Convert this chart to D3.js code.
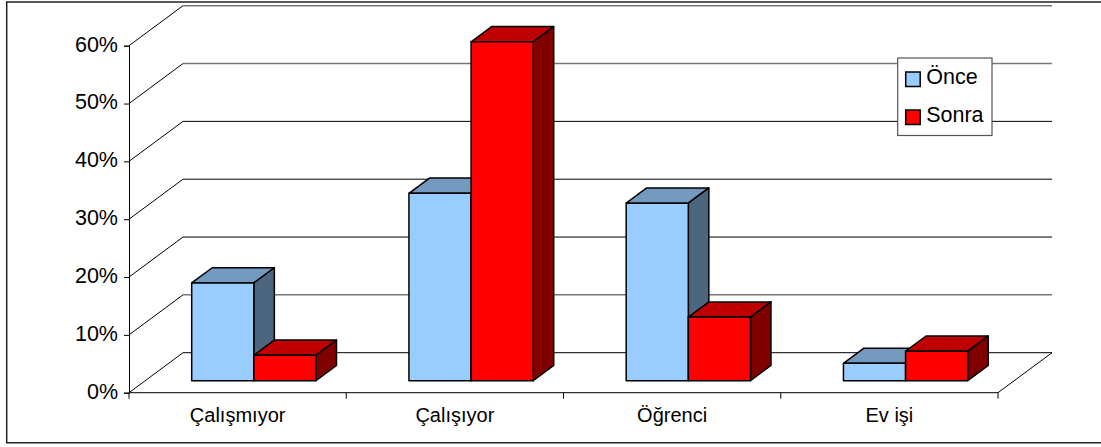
<!DOCTYPE html>
<html>
<head>
<meta charset="utf-8">
<script src="https://d3js.org/d3.v7.min.js"></script>
<style>
  html, body { margin: 0; padding: 0; background: #fff; }
  svg { display: block; }
  text { font-family: "Liberation Sans", Arial, sans-serif; fill: #000; }
</style>
</head>
<body>
<div class="chart"></div>
<script>
// Chart data
var categories = ["Çalışmıyor", "Çalışıyor", "Öğrenci", "Ev işi"];
var seriesNames = ["Önce", "Sonra"];
var once = [16.9, 32.4, 30.7, 3.0];
var sonra = [4.4, 58.6, 11.0, 5.1];
var yTicks = [0, 10, 20, 30, 40, 50, 60];

// These back wall lines come out soft and grey in the reference
var softTicks = [10, 50, 60];

// Colours per series: front, top, side
var colors = {
  "Önce": { front: "#99ccff", top: "#7399bf", side: "#4d6680" },
  "Sonra": { front: "#ff0000", top: "#bf0000", side: "#800000" }
};

var svgWidth = 1101;
var svgHeight = 447;

// Plot area (front floor edge) and the 3D depth offset
var plot = { left: 129, right: 998, top: 45.7, bottom: 392.7 };
var depthX = 54;
var depthY = -40;

var svg = d3.select(".chart")
  .append("svg")
  .attr("width", svgWidth)
  .attr("height", svgHeight);

// Outer frame, open on the right like the reference
svg.append("path")
  .attr("d", d3.line()([[1101, 2], [6.7, 2], [6.7, 442.7], [1101, 442.7]]))
  .attr("fill", "none")
  .attr("stroke", "#222")
  .attr("stroke-width", 1.5);

// Scales
var xScale = d3.scaleBand()
  .domain(categories)
  .range([plot.left, plot.right]);

var xInner = d3.scaleBand()
  .domain(seriesNames)
  .range([0, xScale.bandwidth() * 0.572]);

var yScale = d3.scaleLinear()
  .domain([0, 60])
  .range([plot.bottom, plot.top]);

// Project a point (pixel x, value, depth 0-1) on the screen
function project(x, value, depth) {
  return [x + depth * depthX, yScale(value) + depth * depthY];
}

var line = d3.line();

// Back wall gridlines and the left wall diagonals
var grid = svg.append("g").attr("fill", "none").attr("stroke", "#000");

grid.selectAll(".diagonal")
  .data(yTicks)
  .enter()
  .append("path")
  .attr("class", "diagonal")
  .attr("stroke-width", 1)
  .attr("d", d => line([project(plot.left, d, 0), project(plot.left, d, 1)]));

grid.selectAll(".wall")
  .data(yTicks)
  .enter()
  .append("path")
  .attr("class", "wall")
  .attr("stroke", d => softTicks.includes(d) ? "#777" : "#000")
  .attr("stroke-width", d => softTicks.includes(d) ? 1.5 : 1)
  .attr("d", d => line([project(plot.left, d, 1), project(plot.right, d, 1)]));

// Floor
grid.append("path")
  .attr("stroke-width", 1)
  .attr("d", line([project(plot.right, 0, 0), project(plot.right, 0, 1)]));

// Axes
var leftAxis = d3.axisLeft(yScale)
  .tickValues(yTicks)
  .tickSize(5)
  .tickPadding(6)
  .tickFormat(d => d + "%");

var bottomAxis = d3.axisBottom(xScale)
  .tickSize(0)
  .tickPadding(15);

var yAxis = svg.append("g")
  .attr("transform", `translate(${plot.left}, 0)`)
  .call(leftAxis);

var xAxis = svg.append("g")
  .attr("transform", `translate(0, ${plot.bottom})`)
  .call(bottomAxis);

// Category separators on the floor edge
xAxis.selectAll(".sep")
  .data(categories.map(d => xScale(d)).concat([plot.right]))
  .enter()
  .append("line")
  .attr("class", "sep")
  .attr("x1", d => d)
  .attr("x2", d => d)
  .attr("y1", 0)
  .attr("y2", 6)
  .attr("stroke", "#000");

xAxis.select(".domain").attr("d", `M${plot.left},0H${plot.right}`);

yAxis.selectAll(".tick text")
  .style("font-family", '"Liberation Sans", Arial, sans-serif')
  .style("font-size", "21.5px")
  .attr("y", -1.5)
  .attr("fill", "#000");

xAxis.selectAll(".tick text")
  .style("font-family", '"Liberation Sans", Arial, sans-serif')
  .style("font-size", "20px")
  .attr("fill", "#000");

// Bars stand between these two depths of the floor
var depthFront = 0.3;
var depthBack = 0.68;

var bars = [];
categories.forEach(function(cat, i) {
  bars.push({ cat: cat, series: "Önce", value: once[i] });
  bars.push({ cat: cat, series: "Sonra", value: sonra[i] });
});

var barGroups = svg.append("g")
  .selectAll("g")
  .data(bars)
  .enter()
  .append("g")
  .attr("stroke", "#000")
  .attr("stroke-width", 1.5)
  .attr("stroke-linejoin", "round");

function barLeft(d) {
  var groupWidth = xInner.range()[1];
  return xScale(d.cat) + (xScale.bandwidth() - groupWidth) / 2 + xInner(d.series);
}

// top face
barGroups.append("path")
  .attr("fill", d => colors[d.series].top)
  .attr("d", function(d) {
    var x0 = barLeft(d), x1 = x0 + xInner.bandwidth();
    return line([project(x0, d.value, depthFront), project(x1, d.value, depthFront),
      project(x1, d.value, depthBack), project(x0, d.value, depthBack)]) + "Z";
  });

// side face
barGroups.append("path")
  .attr("fill", d => colors[d.series].side)
  .attr("d", function(d) {
    var x1 = barLeft(d) + xInner.bandwidth();
    return line([project(x1, 0, depthFront), project(x1, d.value, depthFront),
      project(x1, d.value, depthBack), project(x1, 0, depthBack)]) + "Z";
  });

// front face
barGroups.append("path")
  .attr("fill", d => colors[d.series].front)
  .attr("d", function(d) {
    var x0 = barLeft(d), x1 = x0 + xInner.bandwidth();
    return line([project(x0, 0, depthFront), project(x1, 0, depthFront),
      project(x1, d.value, depthFront), project(x0, d.value, depthFront)]) + "Z";
  });

// Legend
var legend = svg.append("g").attr("transform", "translate(897.7, 58)");

legend.append("rect")
  .attr("width", 94.3)
  .attr("height", 77.5)
  .attr("fill", "#fff")
  .attr("stroke", "#555")
  .attr("stroke-width", 1.2);

var legendItems = legend.selectAll(".item")
  .data(seriesNames)
  .enter()
  .append("g")
  .attr("class", "item")
  .attr("transform", (d, i) => `translate(0, ${i * 38})`);

legendItems.append("rect")
  .attr("x", 8)
  .attr("y", 14)
  .attr("width", 14.5)
  .attr("height", 14.5)
  .attr("fill", d => colors[d].front)
  .attr("stroke", "#000")
  .attr("stroke-width", 1.5);

legendItems.append("text")
  .attr("x", 28.5)
  .attr("y", 26)
  .style("font-size", "21.5px")
  .text(d => d);
</script>
</body>
</html>
